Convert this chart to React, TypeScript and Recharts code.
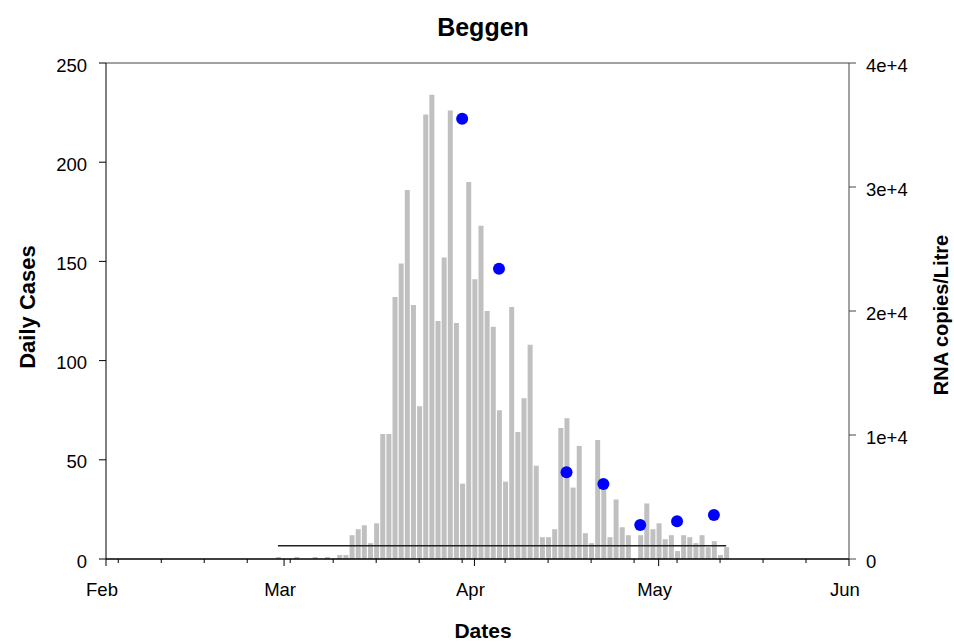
import React from 'react';
import { ComposedChart, Bar, Scatter, XAxis, YAxis, ReferenceLine } from 'recharts';

// daily reported cases, one value per day starting at firstCaseDate
const firstCaseDate = '2020-02-29';
const dailyCases = [
  1, 0, 0, 1, 0, 0, 1, 0, 1, 0, 2, 2,
  12, 15, 17, 8, 18, 63, 63, 132, 149, 186, 128, 77,
  224, 234, 120, 152, 226, 119, 38, 190, 141, 168, 125, 117,
  75, 39, 127, 64, 81, 108, 47, 11, 11, 15, 66, 71,
  36, 57, 13, 8, 60, 37, 11, 30, 16, 12, 0, 12,
  28, 15, 18, 10, 12, 4, 12, 11, 8, 12, 6, 9, 2, 6,
];

// wastewater samples (right axis)
const rnaDates = ['2020-03-30', '2020-04-05', '2020-04-16', '2020-04-22', '2020-04-28', '2020-05-04', '2020-05-10'];
const rnaCopies = [35500, 23400, 7000, 6050, 2750, 3050, 3550];

// detection limit line
const limitDates = ['2020-02-29', '2020-05-12'];
const limitValue = 1070;

const monthStarts = ['2020-02-01', '2020-03-01', '2020-04-01', '2020-05-01', '2020-06-01'];
const monthLabels = ['Feb', 'Mar', 'Apr', 'May', 'Jun'];
const weekTicks = [
  '2020-02-03', '2020-02-10', '2020-02-17', '2020-02-24',
  '2020-03-02', '2020-03-09', '2020-03-16', '2020-03-23', '2020-03-30',
  '2020-04-06', '2020-04-13', '2020-04-20', '2020-04-27',
  '2020-05-04', '2020-05-11', '2020-05-18', '2020-05-25',
];
const caseTicks = [0, 50, 100, 150, 200, 250];
const rnaTicks = [0, 10000, 20000, 30000, 40000];

const origin = Date.parse(monthStarts[0]);
const dayOf = (iso: string) => Math.round((Date.parse(iso) - origin) / 86400000);

const start = dayOf(firstCaseDate);
const caseRows = dailyCases.map((cases, i) => ({ day: start + i, cases }));
const rnaRows = rnaDates.map((d, i) => ({ day: dayOf(d), rna: rnaCopies[i] }));
const monthDays = monthStarts.map(dayOf);
const allTicks = [...monthDays, ...weekTicks.map(dayOf)].sort((a, b) => a - b);

const font = '"Liberation Sans", Arial, Helvetica, sans-serif';

const DateTick = (props: any) => {
  const { x, y, payload } = props;
  const idx = monthDays.indexOf(payload.value);
  const major = idx >= 0;
  return (
    <g>
      <line x1={x} x2={x} y1={y} y2={y + (major ? 7 : 4)} stroke="#000" strokeWidth={1} />
      {major && (
        <text x={x - 4} y={y + 37} textAnchor="middle" fontSize={18.5} fontFamily={font} fill="#000">
          {monthLabels[idx]}
        </text>
      )}
    </g>
  );
};

const rnaFormat = (v: number) => (v === 0 ? '0' : `${v / 10000}e+4`);

export default function App() {
  return (
    <div style={{ position: 'absolute', left: 0, top: 0, width: 954, height: 643, background: '#fff', fontFamily: font }}>
      <ComposedChart width={954} height={643} data={caseRows} margin={{ top: 63, right: 0, bottom: 0, left: 0 }}>
        <XAxis
          dataKey="day"
          type="number"
          domain={[0, 121]}
          ticks={allTicks}
          interval={0}
          tickSize={0}
          tickMargin={0}
          tickLine={false}
          tick={<DateTick />}
          height={84}
          axisLine={{ stroke: '#000', strokeWidth: 1.5 }}
        />
        <YAxis
          yAxisId="left"
          domain={[0, 250]}
          ticks={caseTicks}
          interval={0}
          width={106}
          tickSize={7}
          tickMargin={12}
          tick={{ fill: '#000', fontSize: 18.5, fontFamily: font, dy: 2 }}
          tickLine={{ stroke: '#000' }}
          axisLine={{ stroke: '#000' }}
        />
        <YAxis
          yAxisId="right"
          orientation="right"
          domain={[0, 40000]}
          ticks={rnaTicks}
          interval={0}
          width={105}
          tickSize={7}
          tickMargin={10}
          tickFormatter={rnaFormat}
          tick={{ fill: '#000', fontSize: 18.5, fontFamily: font, dy: 2 }}
          tickLine={{ stroke: '#444' }}
          axisLine={{ stroke: '#444' }}
        />
        <ReferenceLine yAxisId="left" y={250} stroke="#444" strokeWidth={1} />
        <Bar yAxisId="left" dataKey="cases" fill="#c0c0c0" barSize={5} isAnimationActive={false} />
        <ReferenceLine
          yAxisId="right"
          segment={[
            { x: dayOf(limitDates[0]), y: limitValue },
            { x: dayOf(limitDates[1]), y: limitValue },
          ]}
          stroke="#222"
          strokeWidth={1.5}
        />
        <Scatter
          yAxisId="right"
          data={rnaRows}
          dataKey="rna"
          isAnimationActive={false}
          shape={(p: any) => <circle cx={p.cx} cy={p.cy} r={6} fill="#0000ff" />}
        />
      </ComposedChart>
      <svg width={954} height={643} style={{ position: 'absolute', left: 0, top: 0, pointerEvents: 'none' }}>
        <text x={483} y={36} textAnchor="middle" fontSize={25} fontWeight="bold" fontFamily={font} fill="#000">
          Beggen
        </text>
        <text x={483} y={638} textAnchor="middle" fontSize={21} fontWeight="bold" fontFamily={font} fill="#000">
          Dates
        </text>
        <text
          transform="translate(27 307) rotate(-90)"
          textAnchor="middle"
          dominantBaseline="central"
          fontSize={22}
          fontWeight="bold"
          fontFamily={font}
          fill="#000"
        >
          Daily Cases
        </text>
        <text
          transform="translate(941 315) rotate(-90)"
          textAnchor="middle"
          dominantBaseline="central"
          fontSize={20}
          fontWeight="bold"
          fontFamily={font}
          fill="#000"
        >
          RNA copies/Litre
        </text>
      </svg>
    </div>
  );
}
